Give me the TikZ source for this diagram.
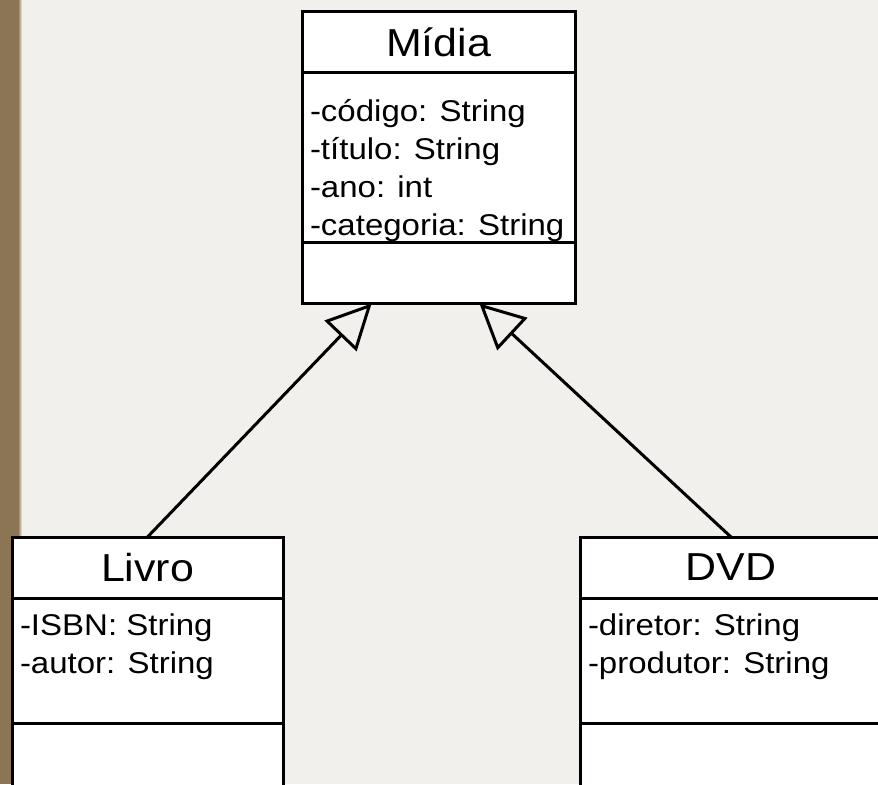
\documentclass[tikz,border=0pt]{standalone}
\usepackage{fontspec}
\setmainfont{Liberation Sans}[FakeStretch=1.1]
\usetikzlibrary{arrows.meta,positioning,calc}
\definecolor{paper}{HTML}{F1F0EC}
\definecolor{wood}{HTML}{8C7555}
\definecolor{ink}{HTML}{000000}
\newcommand{\attrlist}[4]{% height, first baseline, width, lines
  \parbox[c][#1][t]{#3}{\raggedright\leftskip=4pt\rule{0pt}{#2}#4}}
\tikzset{
  classtitle/.style={draw=ink, fill=white, line width=1.5pt, inner sep=0pt, outer sep=0pt,
    minimum height=30.5pt, anchor=north west, font=\fontsize{19.5}{23}\selectfont},
  compart/.style={draw=ink, fill=white, line width=1.5pt, inner sep=0pt, outer sep=0pt,
    font=\fontsize{15}{19}\selectfont},
  inherit/.style={draw=ink, line width=1.5pt, -{Triangle[open, length=22.5pt, width=22pt]}}
}
\begin{document}
\begin{tikzpicture}[x=0.5pt, y=-0.5pt]

% ---------------- background ----------------
\clip (0,0) rectangle (878,784);
\fill[paper] (0,0) rectangle (878,784);
\fill[wood] (0,0) rectangle (18,784);
\shade[left color=wood, right color=paper] (18,0) rectangle (22,784);

% ---------------- superclass ----------------
\node[classtitle, minimum width=136.5pt] (midia) at (302,11.5) {Mídia};
\node[compart, below=0pt of midia] (midia-attr)
  {\attrlist{85pt}{24.5pt}{136.5pt}{-código: String\\-título: String\\-ano: int\\-categoria: String}};
\node[compart, minimum width=136.5pt, minimum height=30.5pt, below=0pt of midia-attr] (midia-ops) {};

% ---------------- subclasses ----------------
\node[classtitle, minimum width=135.5pt] (livro) at (12,537) {Livro};
\node[compart, below=0pt of livro] (livro-attr)
  {\attrlist{62.5pt}{18.5pt}{135.5pt}{-ISBN: String\\-autor: String}};
\node[compart, minimum width=135.5pt, minimum height=40pt, below=0pt of livro-attr] (livro-ops) {};

\node[classtitle, minimum width=151pt] (dvd) at (580,537) {DVD};
\node[compart, below=0pt of dvd] (dvd-attr)
  {\attrlist{62.5pt}{18.5pt}{151pt}{-diretor: String\\-produtor: String}};
\node[compart, minimum width=151pt, minimum height=40pt, below=0pt of dvd-attr] (dvd-ops) {};

% ---------------- generalisation ----------------
\draw[inherit] (livro.north) -- ($(midia-ops.south)!0.49!(midia-ops.south west)$);
\draw[inherit] (dvd.north) -- ($(midia-ops.south)!0.3!(midia-ops.south east)$);

\end{tikzpicture}
\end{document}
